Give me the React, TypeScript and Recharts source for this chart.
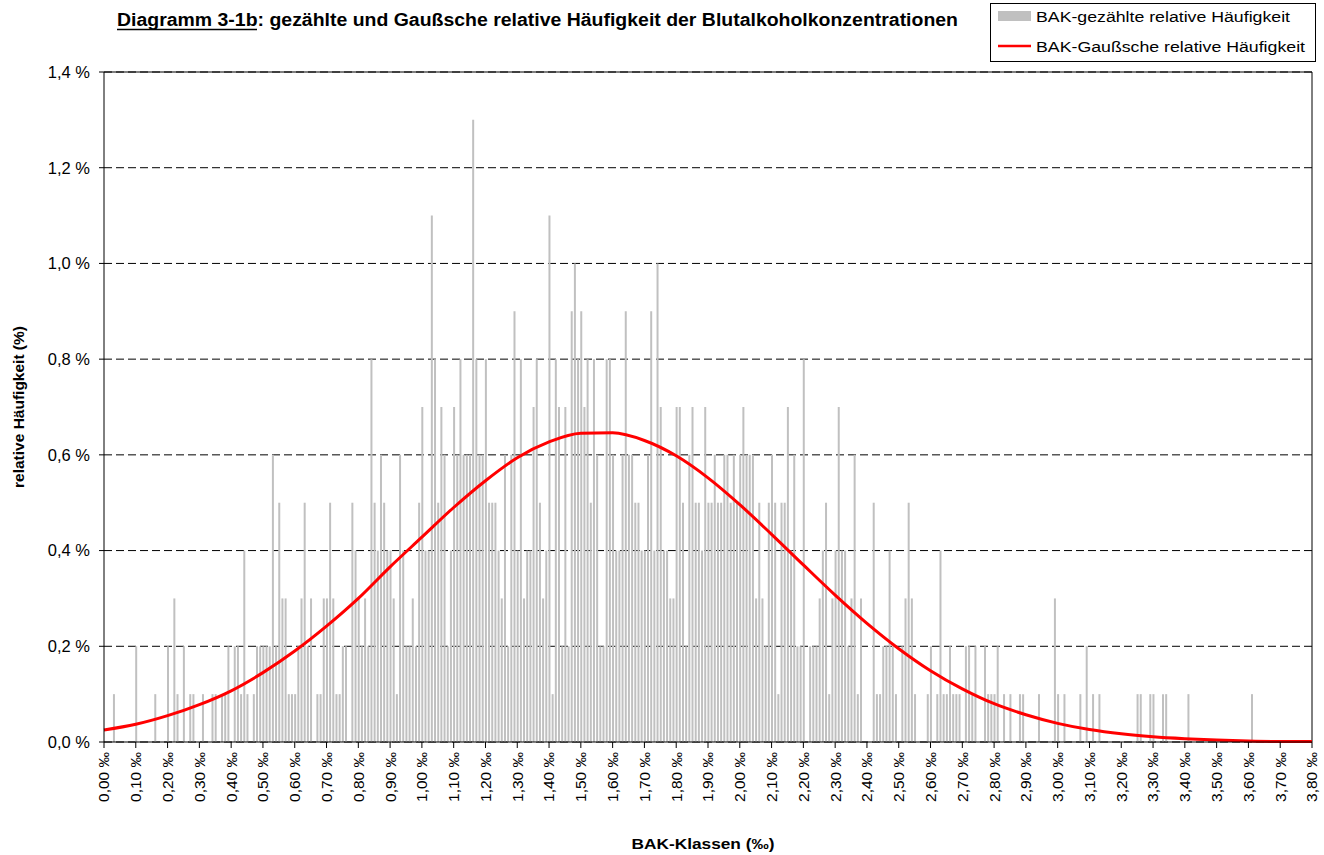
import React from 'react';
import { ComposedChart, Bar, Line, XAxis, YAxis, CartesianGrid, ReferenceLine } from 'recharts';

// counts per BAK class of 0.01 ‰ (each count = 0.1 % relative frequency)
const counts_000_049 = [
  0, 0, 0, 1, 0, 0, 0, 0, 0, 0,
  2, 0, 0, 0, 0, 0, 1, 0, 0, 0,
  2, 0, 3, 1, 0, 2, 0, 1, 1, 0,
  0, 1, 0, 0, 1, 1, 0, 1, 1, 2,
  0, 2, 2, 1, 4, 1, 0, 1, 2, 2,
];
const counts_050_099 = [
  2, 2, 2, 6, 2, 5, 3, 3, 1, 1,
  1, 2, 3, 5, 2, 3, 0, 1, 1, 3,
  3, 5, 3, 1, 1, 2, 2, 0, 5, 4,
  3, 2, 3, 2, 8, 5, 4, 6, 5, 4,
  4, 3, 1, 6, 4, 2, 2, 3, 2, 5,
];
const counts_100_149 = [
  7, 4, 4, 11, 8, 5, 7, 6, 2, 4,
  7, 6, 8, 6, 6, 6, 13, 8, 6, 6,
  8, 5, 5, 5, 4, 3, 6, 2, 6, 9,
  4, 8, 3, 4, 4, 7, 8, 5, 3, 4,
  11, 1, 8, 7, 2, 7, 2, 9, 10, 8,
];
const counts_150_199 = [
  9, 7, 8, 5, 8, 6, 2, 2, 8, 8,
  6, 4, 4, 6, 9, 6, 6, 5, 5, 4,
  4, 6, 9, 4, 10, 7, 4, 4, 3, 3,
  7, 7, 5, 2, 6, 7, 5, 5, 4, 7,
  5, 5, 6, 5, 5, 6, 6, 5, 6, 5,
];
const counts_200_249 = [
  6, 7, 6, 6, 6, 3, 5, 3, 2, 5,
  6, 5, 1, 5, 5, 7, 4, 6, 2, 2,
  8, 0, 2, 2, 2, 3, 4, 5, 1, 3,
  4, 7, 4, 4, 2, 3, 6, 1, 3, 0,
  0, 0, 5, 1, 1, 2, 2, 4, 2, 1,
];
const counts_250_299 = [
  0, 2, 3, 5, 3, 1, 0, 0, 0, 1,
  2, 0, 1, 4, 1, 1, 2, 1, 1, 1,
  0, 2, 2, 1, 2, 0, 0, 2, 1, 1,
  1, 2, 0, 1, 0, 1, 0, 0, 1, 1,
  0, 0, 0, 0, 1, 0, 0, 0, 0, 3,
];
const counts_300_380 = [
  1, 0, 1, 0, 0, 0, 0, 1, 0, 2,
  0, 1, 0, 1, 0, 0, 0, 0, 0, 0,
  0, 0, 0, 0, 0, 1, 1, 0, 0, 1,
  1, 0, 0, 1, 1, 0, 0, 0, 0, 0,
  0, 1, 0, 0, 0, 0, 0, 0, 0, 0,
  0, 0, 0, 0, 0, 0, 0, 0, 0, 0,
  0, 1, 0, 0, 0, 0, 0, 0, 0, 0,
  0, 0, 0, 0, 0, 0, 0, 0, 0, 0,
  0,
];

// Gaussian relative frequency (%) read at every 0.10 ‰ (0.00 ... 3.80)
const gaussPct = [
  0.025, 0.037, 0.055, 0.078, 0.107, 0.145, 0.19, 0.242, 0.30, 0.366,
  0.428, 0.49, 0.546, 0.594, 0.627, 0.645, 0.646, 0.63, 0.598, 0.552,
  0.496, 0.434, 0.37, 0.307, 0.248, 0.195, 0.149, 0.111, 0.08, 0.057,
  0.039, 0.026, 0.017, 0.011, 0.007, 0.004, 0.002, 0.001, 0.001,
];

const yTicks = [0, 0.2, 0.4, 0.6, 0.8, 1.0, 1.2, 1.4];
const xTicks = Array.from({ length: 39 }, (_, k) => k * 10);

const allCounts = [
  ...counts_000_049, ...counts_050_099, ...counts_100_149, ...counts_150_199,
  ...counts_200_249, ...counts_250_299, ...counts_300_380,
];

const data = allCounts.map((c, i) => ({
  i,
  bak: c / 10,
  gauss: i % 10 === 0 ? gaussPct[i / 10] : null,
}));

const FONT = '"Liberation Sans", Arial, sans-serif';

const XTick = (props: any) => {
  const { x, y, payload } = props;
  const label = (payload.value / 100).toFixed(2).replace('.', ',') + ' ‰';
  return (
    <g transform={`translate(${x},${y})`}>
      <text x={0} y={0} dy="0.35em" textAnchor="end" transform="rotate(-90)" fontSize={15.5} fontFamily={FONT} fill="#000">
        {label}
      </text>
    </g>
  );
};

export default function App() {
  return (
    <div style={{ position: 'absolute', left: 0, top: 0, width: 1324, height: 855, background: '#fff' }}>
      <ComposedChart width={1324} height={855} data={data} margin={{ top: 72, right: 12, bottom: 0, left: 0 }}>
        <CartesianGrid vertical={false} stroke="#000" strokeDasharray="8 4" />
        <XAxis
          dataKey="i"
          type="number"
          domain={[0, 380]}
          ticks={xTicks}
          interval={0}
          height={113}
          tickSize={6}
          tickMargin={4}
          tick={<XTick />}
          axisLine={{ stroke: '#000' }}
          tickLine={{ stroke: '#000' }}
        />
        <YAxis
          type="number"
          domain={[0, 1.4]}
          ticks={yTicks}
          interval={0}
          width={104}
          tickSize={5}
          tickMargin={9}
          tickFormatter={(v: number) => v.toFixed(1).replace('.', ',') + ' %'}
          tick={{ fontSize: 16.5, fill: '#000', fontFamily: FONT }}
          axisLine={{ stroke: '#000' }}
          tickLine={{ stroke: '#000' }}
        />
        <ReferenceLine y={1.4} stroke="#000" strokeWidth={1} />
        <ReferenceLine x={380} stroke="#000" strokeWidth={1} />
        <Bar dataKey="bak" fill="#C0C0C0" barSize={2} isAnimationActive={false} />
        <Line
          dataKey="gauss"
          type="monotone"
          stroke="#FF0000"
          strokeWidth={3}
          dot={false}
          connectNulls
          isAnimationActive={false}
        />
      </ComposedChart>
      <svg width={1324} height={855} style={{ position: 'absolute', left: 0, top: 0, pointerEvents: 'none' }} fontFamily={FONT}>
        <text x={117} y={26} fontWeight="bold" fontSize={17.5} textLength={841} lengthAdjust="spacingAndGlyphs" fill="#000">
          Diagramm 3-1b: gezählte und Gaußsche relative Häufigkeit der Blutalkoholkonzentrationen
        </text>
        <line x1={117} x2={257} y1={29.5} y2={29.5} stroke="#000" strokeWidth={1.5} />
        <rect x={990.5} y={3.5} width={325} height={58} fill="#fff" stroke="#000" strokeWidth={1} />
        <rect x={998} y={11} width={33} height={10} fill="#C0C0C0" />
        <text x={1036} y={22} fontSize={15.5} textLength={254} lengthAdjust="spacingAndGlyphs" fill="#000">
          BAK-gezählte relative Häufigkeit
        </text>
        <line x1={998} x2={1031} y1={46} y2={46} stroke="#FF0000" strokeWidth={2.5} />
        <text x={1036} y={52} fontSize={15.5} textLength={269} lengthAdjust="spacingAndGlyphs" fill="#000">
          BAK-Gaußsche relative Häufigkeit
        </text>
        <text transform="translate(24,407) rotate(-90)" textAnchor="middle" fontWeight="bold" fontSize={15.5} fill="#000">
          relative Häufigkeit (%)
        </text>
        <text x={703} y={849} textAnchor="middle" fontWeight="bold" fontSize={15.5} textLength={143} lengthAdjust="spacingAndGlyphs" fill="#000">
          BAK-Klassen (‰)
        </text>
      </svg>
    </div>
  );
}
